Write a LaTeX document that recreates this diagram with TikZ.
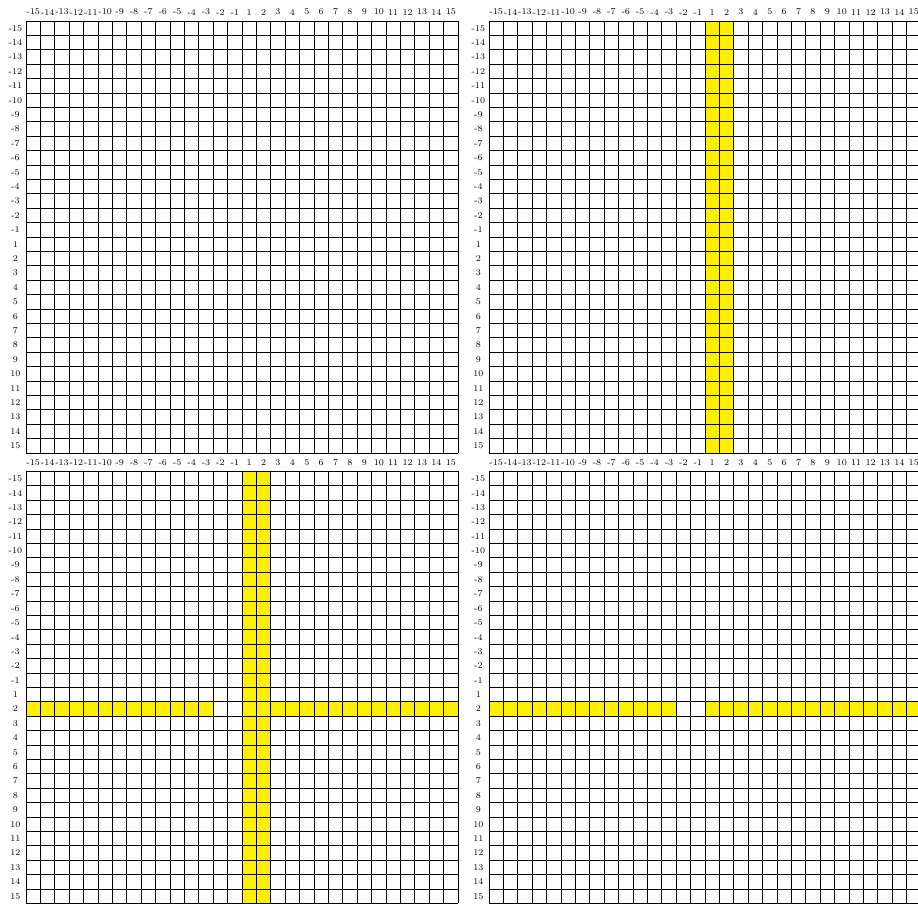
\documentclass[tikz,border=0pt]{standalone}
\definecolor{panelYellow}{HTML}{FFF000}
\tikzset{
  gridLine/.style={
    draw=black,
    line width=0.7pt
  },
  markedCell/.style={
    fill=panelYellow
  },
  axisLabel/.style={
    inner sep=0pt,
    font=\fontsize{7}{8}\selectfont
  }
}
\begin{document}
\begin{tikzpicture}[x=0.4cm,y=0.4cm]
  \useasboundingbox (-1.806,1.458) rectangle (61.944,-61.25);
  % highlighted cells
  \begin{scope}[shift={(32.15,0)}]
    \fill[markedCell] (15,0) rectangle (17,-30);
  \end{scope}
  \begin{scope}[shift={(0,-31.28)}]
    \fill[markedCell] (15,0) rectangle (17,-30);
    \fill[markedCell] (0,-16) rectangle (13,-17);
    \fill[markedCell] (17,-16) rectangle (30,-17);
  \end{scope}
  \begin{scope}[shift={(32.15,-31.28)}]
    \fill[markedCell] (0,-16) rectangle (13,-17);
    \fill[markedCell] (15,-16) rectangle (30,-17);
  \end{scope}
  % grids with column and row labels
  \foreach \gx/\gy/\pan in {0/0/tl,32.15/0/tr,0/-31.28/bl,32.15/-31.28/br}{
    \begin{scope}[shift={(\gx,\gy)}]
      \draw[gridLine,step=1] (0,0) grid (30,-30);
      \foreach \i in {0,...,29}{
        \pgfmathtruncatemacro\lab{\i<15 ? \i-15 : \i-14}
        \node[axisLabel] (\pan-col\i) at (\i+0.5,0.62) {\lab};
        \node[axisLabel] (\pan-row\i) at (-0.74,-\i-0.5) {\lab};
      }
    \end{scope}
  }
\end{tikzpicture}
\end{document}
